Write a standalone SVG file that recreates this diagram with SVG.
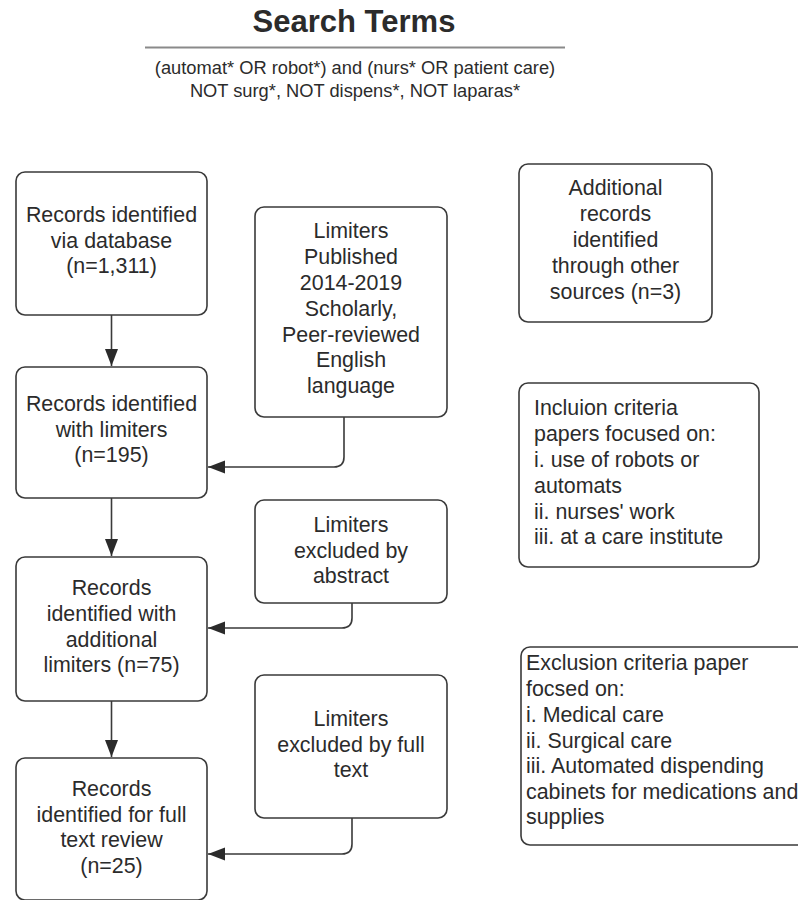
<svg xmlns="http://www.w3.org/2000/svg" width="798" height="900" viewBox="0 0 798 900">
<style>
  .box { fill: #fff; stroke: #3a3a3a; stroke-width: 1.6; }
  .t { font-family: "Liberation Sans", Arial, sans-serif; font-size: 21.4px; fill: #2b2b2b; }
  .c { text-anchor: middle; }
  .title { font-family: "Liberation Sans", Arial, sans-serif; font-size: 31px; font-weight: bold; fill: #2b2b2b; text-anchor: middle; }
  .sub { font-family: "Liberation Sans", Arial, sans-serif; font-size: 18.3px; fill: #2b2b2b; text-anchor: middle; }
  .conn { fill: none; stroke: #3a3a3a; stroke-width: 1.6; }
</style>
<defs>
  <marker id="arr" markerUnits="userSpaceOnUse" markerWidth="18" markerHeight="14" refX="17" refY="7" orient="auto">
    <path d="M0,0.5 L17,7 L0,13.5 z" fill="#2b2b2b"/>
  </marker>
</defs>
<rect width="798" height="900" fill="#fff"/>

<g id="header">
  <text class="title" x="354" y="32">Search Terms</text>
  <line x1="145" y1="47.5" x2="565" y2="47.5" stroke="#8a8a8a" stroke-width="2"/>
  <text class="sub" x="355" y="74">(automat* OR robot*) and (nurs* OR patient care)</text>
  <text class="sub" x="355" y="97">NOT surg*, NOT dispens*, NOT laparas*</text>
</g>

<g id="connectors">
  <line class="conn" x1="111.5" y1="315" x2="111.5" y2="366" marker-end="url(#arr)"/>
  <line class="conn" x1="111.5" y1="498" x2="111.5" y2="556" marker-end="url(#arr)"/>
  <line class="conn" x1="111.5" y1="701" x2="111.5" y2="757" marker-end="url(#arr)"/>
  <path class="conn" d="M344,417 L344,457 Q344,467 334,467 L208,467" marker-end="url(#arr)"/>
  <path class="conn" d="M352,603 L352,618 Q352,628 342,628 L208,628" marker-end="url(#arr)"/>
  <path class="conn" d="M352,818 L352,844 Q352,854 342,854 L208,854" marker-end="url(#arr)"/>
</g>

<g id="records-database">
  <rect class="box" x="16" y="172" width="191" height="143" rx="9"/>
  <text class="t c" x="111.5" y="222">Records identified</text>
  <text class="t c" x="111.5" y="248">via database</text>
  <text class="t c" x="111.5" y="273">(n=1,311)</text>
</g>

<g id="records-limiters">
  <rect class="box" x="16" y="367" width="191" height="131" rx="9"/>
  <text class="t c" x="111.5" y="411">Records identified</text>
  <text class="t c" x="111.5" y="437">with limiters</text>
  <text class="t c" x="111.5" y="462">(n=195)</text>
</g>

<g id="records-additional">
  <rect class="box" x="16" y="557" width="191" height="144" rx="9"/>
  <text class="t c" x="111.5" y="595">Records</text>
  <text class="t c" x="111.5" y="621">identified with</text>
  <text class="t c" x="111.5" y="647">additional</text>
  <text class="t c" x="111.5" y="672">limiters (n=75)</text>
</g>

<g id="records-fulltext">
  <rect class="box" x="16" y="758" width="191" height="142" rx="9"/>
  <text class="t c" x="111.5" y="796">Records</text>
  <text class="t c" x="111.5" y="822">identified for full</text>
  <text class="t c" x="111.5" y="847">text review</text>
  <text class="t c" x="111.5" y="873">(n=25)</text>
</g>

<g id="limiters-published">
  <rect class="box" x="255" y="207" width="192" height="210" rx="9"/>
  <text class="t c" x="351" y="238">Limiters</text>
  <text class="t c" x="351" y="264">Published</text>
  <text class="t c" x="351" y="290">2014-2019</text>
  <text class="t c" x="351" y="316">Scholarly,</text>
  <text class="t c" x="351" y="342">Peer-reviewed</text>
  <text class="t c" x="351" y="367">English</text>
  <text class="t c" x="351" y="393">language</text>
</g>

<g id="limiters-abstract">
  <rect class="box" x="255" y="500" width="192" height="103" rx="9"/>
  <text class="t c" x="351" y="532">Limiters</text>
  <text class="t c" x="351" y="558">excluded by</text>
  <text class="t c" x="351" y="583">abstract</text>
</g>

<g id="limiters-fulltext">
  <rect class="box" x="255" y="675" width="192" height="143" rx="9"/>
  <text class="t c" x="351" y="726">Limiters</text>
  <text class="t c" x="351" y="752">excluded by full</text>
  <text class="t c" x="351" y="777">text</text>
</g>

<g id="additional-records">
  <rect class="box" x="519" y="164" width="193" height="158" rx="9"/>
  <text class="t c" x="615.5" y="195">Additional</text>
  <text class="t c" x="615.5" y="221">records</text>
  <text class="t c" x="615.5" y="247">identified</text>
  <text class="t c" x="615.5" y="273">through other</text>
  <text class="t c" x="615.5" y="299">sources (n=3)</text>
</g>

<g id="inclusion-criteria">
  <rect class="box" x="519" y="383" width="240" height="184" rx="9"/>
  <text class="t" x="534" y="415">Incluion criteria</text>
  <text class="t" x="534" y="441">papers focused on:</text>
  <text class="t" x="534" y="467">i. use of robots or</text>
  <text class="t" x="534" y="493">automats</text>
  <text class="t" x="534" y="519">ii. nurses' work</text>
  <text class="t" x="534" y="544">iii. at a care institute</text>
</g>

<g id="exclusion-criteria">
  <rect class="box" x="521" y="647" width="300" height="198" rx="9"/>
  <text class="t" x="526" y="670">Exclusion criteria paper</text>
  <text class="t" x="526" y="696">focsed on:</text>
  <text class="t" x="526" y="722">i. Medical care</text>
  <text class="t" x="526" y="748">ii. Surgical care</text>
  <text class="t" x="526" y="773">iii. Automated dispending</text>
  <text class="t" x="526" y="799">cabinets for medications and</text>
  <text class="t" x="526" y="824">supplies</text>
</g>
</svg>
